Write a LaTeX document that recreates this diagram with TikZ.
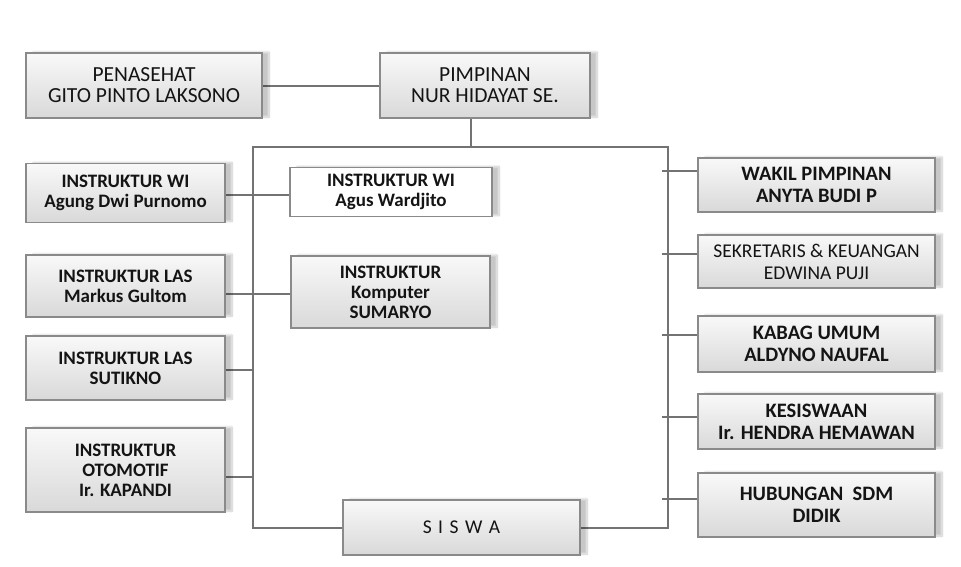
\documentclass[tikz,border=0pt]{standalone}
\usepackage{fontspec}
\setmainfont{Carlito}
\usetikzlibrary{shadows.blur,backgrounds}
\definecolor{lin}{HTML}{737373}
\definecolor{bord}{HTML}{8A8A8A}
\tikzset{
  box/.style={draw=bord, line width=1.2pt, top color=gray!5, bottom color=gray!30,
    align=center, inner sep=1pt, text=black!92,
    blur shadow={shadow xshift=7pt, shadow yshift=1pt, shadow blur steps=12, shadow opacity=22}},
  wbox/.style={box, top color=white, bottom color=white},
  conn/.style={draw=lin, line width=2pt},
  ftop/.style={font=\fontsize{21.5}{21}\selectfont},
  fleft/.style={font=\bfseries\fontsize{19}{20}\selectfont},
  fright/.style={font=\bfseries\fontsize{20.5}{22}\selectfont},
  freg/.style={font=\fontsize{19.5}{22}\selectfont},
}
\begin{document}
\begin{tikzpicture}[x=1pt,y=-1pt]
\useasboundingbox (0,0) rectangle (961,566);
\node[box, ftop, minimum width=236pt, minimum height=65pt] (pen) at (144,85.5) {PENASEHAT\\GITO PINTO LAKSONO};
\node[box, ftop, minimum width=210pt, minimum height=65pt] (pim) at (485,85.5) {PIMPINAN\\NUR HIDAYAT SE.};
\node[box, fleft, minimum width=199pt, minimum height=59pt] (agung) at (125.5,193) {INSTRUKTUR WI\\Agung Dwi Purnomo};
\node[box, fleft, minimum width=199pt, minimum height=62pt] (markus) at (125.5,286) {INSTRUKTUR LAS\\Markus Gultom};
\node[box, fleft, minimum width=199pt, minimum height=64pt] (sutikno) at (125.5,368) {INSTRUKTUR LAS\\SUTIKNO};
\node[box, fleft, minimum width=199pt, minimum height=84pt] (otomotif) at (125.5,470) {INSTRUKTUR\\OTOMOTIF\\Ir. KAPANDI};
\node[wbox, fleft, minimum width=202pt, minimum height=49pt] (agus) at (391,192) {INSTRUKTUR WI\\Agus Wardjito};
\node[box, fleft, minimum width=199pt, minimum height=72pt] (sumaryo) at (390.5,292) {INSTRUKTUR\\Komputer\\SUMARYO};
\node[box, fright, minimum width=237pt, minimum height=54pt] (wakil) at (816.5,185) {WAKIL PIMPINAN\\ANYTA BUDI P};
\node[box, freg, minimum width=237pt, minimum height=53pt] (sekre) at (816.5,261.5) {SEKRETARIS \& KEUANGAN\\EDWINA PUJI};
\node[box, fright, minimum width=237pt, minimum height=56pt] (kabag) at (816.5,344) {KABAG UMUM\\ALDYNO NAUFAL};
\node[box, fright, minimum width=237pt, minimum height=55pt] (kesis) at (816.5,421.5) {KESISWAAN\\Ir. HENDRA HEMAWAN};
\node[box, fright, minimum width=237pt, minimum height=64pt] (hub) at (816.5,505) {HUBUNGAN~~SDM\\DIDIK};
\node[box, freg, minimum width=237pt, minimum height=55pt] (siswa) at (461.5,527.5) {S\,\,I\,\,S\,\,W\,\,A};
\coordinate (top) at (471,147);
\coordinate (tl) at (253,147);
\coordinate (tr) at (668,147);
\coordinate (bl) at (253,527.5);
\coordinate (br) at (668,527.5);
\coordinate (rt) at (662,0);
\coordinate (cag) at ([yshift=-2pt]agung.east);
\coordinate (cmk) at ([yshift=-8pt]markus.east);
\coordinate (cst) at ([yshift=-2pt]sutikno.east);
\coordinate (cot) at ([yshift=-7pt]otomotif.east);
\coordinate (cwk) at ([yshift=14pt]wakil.west);
\coordinate (csk) at ([yshift=7.5pt]sekre.west);
\coordinate (ckb) at ([yshift=9pt]kabag.west);
\coordinate (cks) at ([yshift=4.5pt]kesis.west);
\coordinate (chb) at ([yshift=6pt]hub.west);
\begin{pgfonlayer}{background}
\draw[conn] (pen.east) -- (pim.west);
\draw[conn] (pim.south -| top) -- (top);
\draw[conn] (siswa.west) -- (bl) -- (tl) -- (tr) -- (br) -- (siswa.east);
\draw[conn] (cag) -- (agus.west |- cag);
\draw[conn] (cmk) -- (sumaryo.west |- cmk);
\draw[conn] (cst) -- (bl |- cst);
\draw[conn] (cot) -- (bl |- cot);
\draw[conn] (cwk) -- (rt |- cwk);
\draw[conn] (csk) -- (rt |- csk);
\draw[conn] (ckb) -- (rt |- ckb);
\draw[conn] (cks) -- (rt |- cks);
\draw[conn] (chb) -- (rt |- chb);
\end{pgfonlayer}
\end{tikzpicture}
\end{document}
